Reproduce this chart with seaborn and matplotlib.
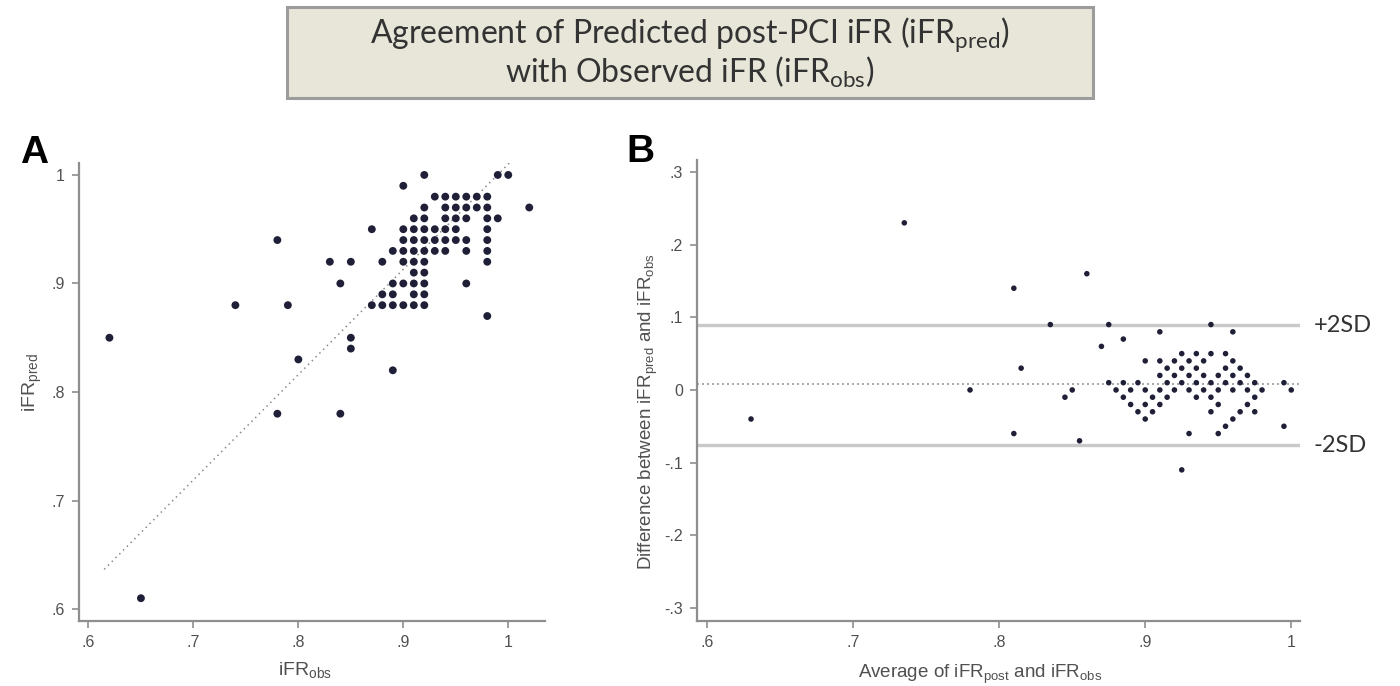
import matplotlib
matplotlib.use("Agg")
import matplotlib.pyplot as plt
import numpy as np
import pandas as pd
import seaborn as sns
from matplotlib.patches import Rectangle

sns.set_theme(style="white")
plt.rcParams["font.family"] = ["Liberation Sans", "DejaVu Sans"]
plt.rcParams["mathtext.default"] = "regular"

# Observed and predicted post-PCI iFR, one entry per lesion (grouped by predicted value)
obs = [
    0.62, 0.65, 0.74, 0.78, 0.79, 0.78, 0.80, 0.83, 0.84, 0.85, 0.85, 0.85,
    0.84, 0.89, 0.90, 0.92, 0.98, 0.99, 1.00, 1.02,
    0.93, 0.94, 0.95, 0.96, 0.97, 0.98,
    0.92, 0.94, 0.95, 0.96, 0.97, 0.98,
    0.91, 0.92, 0.94, 0.95, 0.96, 0.98, 0.99,
    0.87, 0.90, 0.91, 0.92, 0.93, 0.94, 0.95, 0.98,
    0.90, 0.91, 0.92, 0.93, 0.94, 0.95, 0.96, 0.98,
    0.89, 0.90, 0.91, 0.92, 0.93, 0.94, 0.96, 0.98,
    0.88, 0.90, 0.91, 0.92, 0.98,
    0.91, 0.92,
    0.89, 0.90, 0.91, 0.92, 0.96,
    0.88, 0.89, 0.91, 0.92,
    0.87, 0.88, 0.89, 0.90, 0.91, 0.92,
]
pred = [
    0.85, 0.61, 0.88, 0.94, 0.88, 0.78, 0.83, 0.92, 0.90, 0.92, 0.85, 0.84,
    0.78, 0.82, 0.99, 1.00, 0.87, 1.00, 1.00, 0.97,
    0.98, 0.98, 0.98, 0.98, 0.98, 0.98,
    0.97, 0.97, 0.97, 0.97, 0.97, 0.97,
    0.96, 0.96, 0.96, 0.96, 0.96, 0.96, 0.96,
    0.95, 0.95, 0.95, 0.95, 0.95, 0.95, 0.95, 0.95,
    0.94, 0.94, 0.94, 0.94, 0.94, 0.94, 0.94, 0.94,
    0.93, 0.93, 0.93, 0.93, 0.93, 0.93, 0.93, 0.93,
    0.92, 0.92, 0.92, 0.92, 0.92,
    0.91, 0.91,
    0.90, 0.90, 0.90, 0.90, 0.90,
    0.89, 0.89, 0.89, 0.89,
    0.88, 0.88, 0.88, 0.88, 0.88, 0.88,
]

# Fitted agreement line (panel A)
fit_slope = 0.97
fit_intercept = 0.04
fit_range = [0.615, 1.02]

# Bland-Altman reference lines (panel B)
mean_difference = 0.008
upper_limit = 0.089
lower_limit = -0.076

a_ticks = [0.6, 0.7, 0.8, 0.9, 1.0]
a_ticklabels = [".6", ".7", ".8", ".9", "1"]
b_yticks = [-0.3, -0.2, -0.1, 0.0, 0.1, 0.2, 0.3]
b_yticklabels = ["-.3", "-.2", "-.1", "0", ".1", ".2", ".3"]

df = pd.DataFrame({"obs": obs, "pred": pred})
df["average"] = (df["obs"] + df["pred"]) / 2
df["difference"] = df["pred"] - df["obs"]

W, H = 1400, 686
fig = plt.figure(figsize=(W / 100, H / 100), dpi=100)
fig.patch.set_facecolor("white")

axis_grey = "#8e8e8e"
text_grey = "#505050"
dot_color = "#1f1f38"


def fig_box(left, top, right, bottom):
    return [left / W, 1 - bottom / H, (right - left) / W, (bottom - top) / H]


def style_axis(ax):
    for side in ("top", "right"):
        ax.spines[side].set_visible(False)
    for side in ("left", "bottom"):
        ax.spines[side].set_color(axis_grey)
        ax.spines[side].set_linewidth(1.6)
    ax.tick_params(axis="both", which="both", bottom=True, left=True,
                   direction="out", length=5, width=1.2, color=axis_grey,
                   labelsize=11.5, labelcolor=text_grey, pad=5)
    ax.grid(False)
    ax.set_facecolor("white")


# Title banner
fig.add_artist(Rectangle((287 / W, 1 - 98 / H), (1093 - 287) / W, (98 - 7) / H,
                         transform=fig.transFigure, facecolor="#e7e6d8",
                         edgecolor="#9c9c9c", linewidth=2.2))
fig.text(690 / W, 1 - 35 / H, "Agreement of Predicted post-PCI iFR (iFR$_{pred}$)",
         ha="center", va="center", fontsize=23, family="Lato", color="#333333")
fig.text(690 / W, 1 - 72 / H, "with Observed iFR (iFR$_{obs}$)",
         ha="center", va="center", fontsize=23, family="Lato", color="#333333")

# Panel A: predicted vs observed
axA = fig.add_axes(fig_box(79, 163, 545, 621))
fx = np.array(fit_range)
axA.plot(fx, fit_intercept + fit_slope * fx, linestyle=(0, (1, 2.5)),
         color="#8a8a8a", linewidth=1.1, zorder=1)
sns.scatterplot(data=df, x="obs", y="pred", ax=axA, color=dot_color, s=32,
                marker="o", edgecolor="none", zorder=3)
axA.set_xlim(0.591, 1.035)
axA.set_ylim(0.589, 1.011)
axA.set_xticks(a_ticks)
axA.set_xticklabels(a_ticklabels)
axA.set_yticks(a_ticks)
axA.set_yticklabels(a_ticklabels)
style_axis(axA)
axA.set_xlabel("iFR$_{obs}$", fontsize=14, color=text_grey)
axA.set_ylabel("iFR$_{pred}$", fontsize=14, color=text_grey)
axA.xaxis.set_label_coords(0.485, -0.085)
axA.yaxis.set_label_coords(-0.075, 0.52)

# Panel B: Bland-Altman difference vs average
axB = fig.add_axes(fig_box(697, 160, 1300, 621))
axB.axhline(upper_limit, color="#c9c9c9", linewidth=2.4, zorder=1)
axB.axhline(lower_limit, color="#c9c9c9", linewidth=2.4, zorder=1)
axB.axhline(mean_difference, color="#9a9a9a", linewidth=1.2,
            linestyle=(0, (1.2, 1.8)), zorder=1)
sns.scatterplot(data=df, x="average", y="difference", ax=axB, color=dot_color,
                s=16, marker="o", edgecolor="none", zorder=3)
axB.set_xlim(0.593, 1.006)
axB.set_ylim(-0.318, 0.3165)
axB.set_xticks(a_ticks)
axB.set_xticklabels(a_ticklabels)
axB.set_yticks(b_yticks)
axB.set_yticklabels(b_yticklabels)
style_axis(axB)
axB.set_xlabel("Average of iFR$_{post}$ and iFR$_{obs}$", fontsize=13.5,
               color=text_grey)
axB.set_ylabel("Difference between iFR$_{pred}$ and iFR$_{obs}$", fontsize=13.5,
               color=text_grey)
axB.xaxis.set_label_coords(0.47, -0.09)
axB.yaxis.set_label_coords(-0.062, 0.455)
axB.annotate("+2SD", xy=(1.022, upper_limit), xycoords=("axes fraction", "data"),
             ha="left", va="center", fontsize=17, family="Lato", color="#333333",
             annotation_clip=False)
axB.annotate("-2SD", xy=(1.022, lower_limit), xycoords=("axes fraction", "data"),
             ha="left", va="center", fontsize=17, family="Lato", color="#333333",
             annotation_clip=False)

# Panel letters
fig.text(20 / W, 1 - 163 / H, "A", fontsize=28, fontweight="bold",
         va="baseline", ha="left", color="black")
fig.text(626 / W, 1 - 162 / H, "B", fontsize=28, fontweight="bold",
         va="baseline", ha="left", color="black")

fig.savefig("out.png", dpi=100, facecolor="white")
